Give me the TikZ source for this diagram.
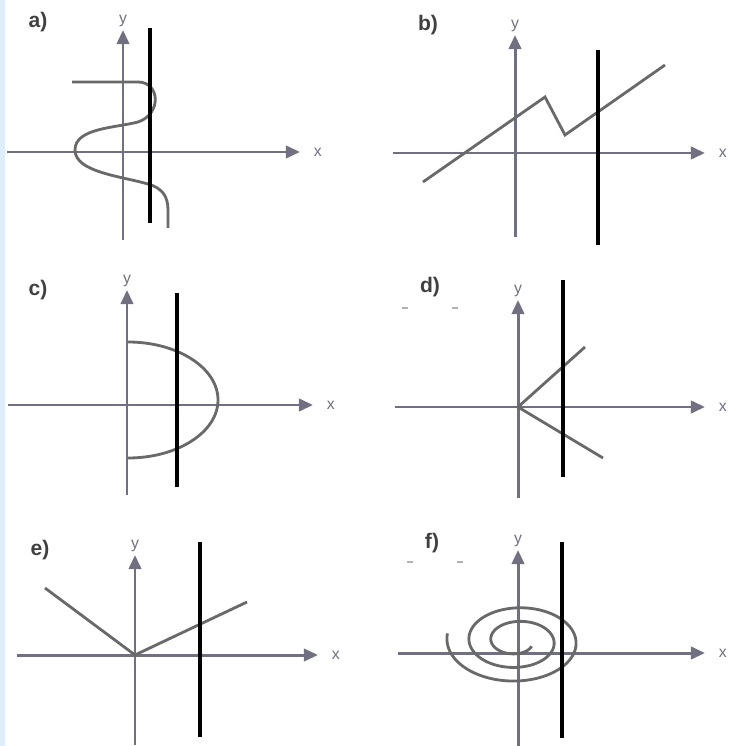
\documentclass[tikz,border=0pt]{standalone}
\usepackage{fontspec}
\setmainfont{Liberation Sans}
\usetikzlibrary{arrows.meta}
\definecolor{axisgray}{RGB}{112,112,128}
\definecolor{curvegray}{RGB}{105,105,105}
\definecolor{edgeblue}{RGB}{222,237,250}
\tikzset{
  axis/.style={draw=axisgray, line width=1.7pt, -{Triangle[length=8pt,width=7pt]}},
  curve/.style={draw=curvegray, line width=1.6pt},
  cutline/.style={draw=black, line width=2.8pt},
  panellabel/.style={font=\bfseries\fontsize{12}{12}\selectfont, text=black!75},
  axislabel/.style={font=\fontsize{9}{9}\selectfont, text=axisgray, inner sep=1pt}
}
\begin{document}
\begin{tikzpicture}[x=0.02cm, y=-0.02cm]
  \useasboundingbox (0,0) rectangle (730,746);
  \fill[edgeblue] (0,0) rectangle (5,746);

  % Axes and panel labels
  \foreach \p/\ox/\oy/\xa/\xb/\ya/\yb/\lx/\ly in {a/123/152/7/300/240/30/38/22,
                                               b/515/153/393/705/237/35/428/25,
                                               c/127/405/8/313/495/290/38/290,
                                               d/518/407/395/705/498/300/430/287,
                                               e/135/655/17/318/745/555/40/550,
                                               f/518/653/398/705/746/550/432/543}
  {
    \draw[axis] (\xa,\oy) -- (\xb,\oy) node[axislabel, right=6pt] (xl-\p) {x};
    \draw[axis] (\ox,\ya) -- (\ox,\yb) node[axislabel, above=0pt] (yl-\p) {y};
    \node[panellabel] (lab-\p) at (\lx,\ly) {\p)};
  }

  % Stray marks beside d) and f)
  \foreach \mx/\my in {405/308, 455/308, 410/562, 460/562}
    \draw[black!30, line width=1pt] ({\mx-3},\my) -- ({\mx+3},\my);

  % Curves
  \draw[curve] (72,82) -- (138,82) .. controls (160,82) and (162,114) .. (138,122)
               .. controls (115,128) and (75,128) .. (75,150)
               .. controls (75,172) and (120,176) .. (148,184)
               .. controls (162,188) and (168,196) .. (168,210) -- (168,228);
  \draw[curve] (423,182) -- (545,97) -- (565,135) -- (665,65);
  \draw[curve] (128,342) arc[start angle=-90, end angle=90, x radius=90, y radius=58];
  \draw[curve] (585,347) -- (518,407) -- (603,458);
  \draw[curve] (45,588) -- (135,655) -- (247,602);
  \draw[curve] plot[domain=170:1050, samples=220, smooth, variable=\t]
    ({517 + (70-11*(\t-180)/180)*cos(\t)}, {641 - 0.62*(70-11*(\t-180)/180)*sin(\t)});

  % Vertical lines
  \foreach \cx/\ca/\cb in {150/28/223, 598/50/245, 177/293/487,
                           563/280/477, 200/542/737, 562/542/738}
    \draw[cutline] (\cx,\ca) -- (\cx,\cb);
\end{tikzpicture}
\end{document}
